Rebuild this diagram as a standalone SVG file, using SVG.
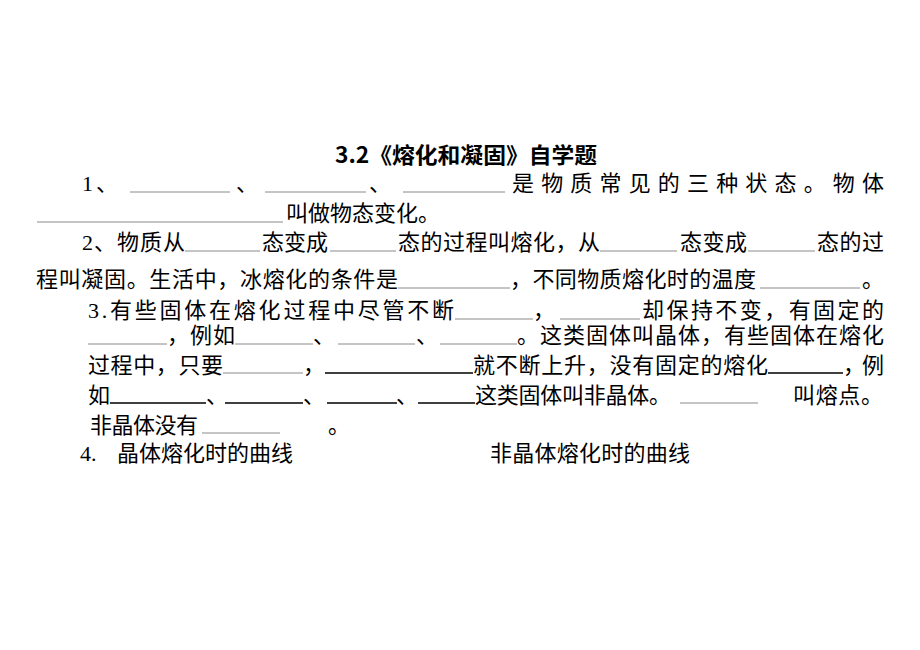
<svg xmlns="http://www.w3.org/2000/svg" width="920" height="650" viewBox="0 0 920 650">
<style>
text{font-family:"Liberation Serif","Noto Sans CJK SC",serif;font-size:22px;fill:#000}
.t{font-family:"Noto Sans CJK SC",sans-serif;font-size:22px;font-weight:bold}
.g{stroke:#8a8a8a;stroke-width:1}
.b{stroke:#000;stroke-width:1.6}
</style>
<rect width="920" height="650" fill="#fff"/>
<text class="t" x="335" y="163" textLength="262" lengthAdjust="spacingAndGlyphs">3.2《熔化和凝固》自学题</text>

<!-- line 1 -->
<text x="82" y="191">1</text>
<text x="96" y="191">、</text>
<line class="g" x1="130" y1="192" x2="230" y2="192"/>
<text x="236" y="191">、</text>
<line class="g" x1="265" y1="192" x2="366" y2="192"/>
<text x="369" y="191">、</text>
<line class="g" x1="403" y1="192" x2="505" y2="192"/>
<text x="512" y="191" textLength="372" lengthAdjust="spacing">是物质常见的三种状态。物体</text>

<!-- line 2 -->
<line class="g" x1="37" y1="222" x2="283" y2="222"/>
<text x="286" y="221" textLength="154" lengthAdjust="spacing">叫做物态变化。</text>

<!-- line 3 -->
<text x="82" y="250" textLength="103" lengthAdjust="spacing">2、物质从</text>
<line class="g" x1="185" y1="251" x2="260" y2="251"/>
<text x="262" y="250" textLength="66" lengthAdjust="spacing">态变成</text>
<line class="g" x1="330" y1="251" x2="396" y2="251"/>
<text x="398" y="250" textLength="202" lengthAdjust="spacing">态的过程叫熔化，从</text>
<line class="g" x1="600" y1="251" x2="677" y2="251"/>
<text x="680" y="250" textLength="67" lengthAdjust="spacing">态变成</text>
<line class="g" x1="748" y1="251" x2="815" y2="251"/>
<text x="817" y="250" textLength="67" lengthAdjust="spacing">态的过</text>

<!-- line 4 -->
<text x="36" y="287" textLength="362" lengthAdjust="spacing">程叫凝固。生活中，冰熔化的条件是</text>
<line class="g" x1="398" y1="288" x2="510" y2="288"/>
<text x="510" y="287" textLength="246" lengthAdjust="spacing">，不同物质熔化时的温度</text>
<line class="g" x1="760" y1="288" x2="860" y2="288"/>
<text x="862" y="287">。</text>

<!-- line 5 -->
<text x="88" y="318" textLength="366" lengthAdjust="spacing">3.有些固体在熔化过程中尽管不断</text>
<line class="g" x1="455" y1="319" x2="533" y2="319"/>
<text x="533" y="318">，</text>
<line class="g" x1="560" y1="319" x2="640" y2="319"/>
<text x="642" y="318" textLength="242" lengthAdjust="spacing">却保持不变，有固定的</text>

<!-- line 6 -->
<line class="g" x1="88" y1="344" x2="167" y2="344"/>
<text x="167" y="343" textLength="68" lengthAdjust="spacing">，例如</text>
<line class="g" x1="235" y1="344" x2="313" y2="344"/>
<text x="313" y="343">、</text>
<line class="g" x1="338" y1="344" x2="415" y2="344"/>
<text x="416" y="343">、</text>
<line class="g" x1="440" y1="344" x2="517" y2="344"/>
<text x="517" y="343" textLength="367" lengthAdjust="spacing">。这类固体叫晶体，有些固体在熔化</text>

<!-- line 7 -->
<text x="88" y="373" textLength="135" lengthAdjust="spacing">过程中，只要</text>
<line class="g" x1="223" y1="373" x2="303" y2="373"/>
<text x="303" y="373">，</text>
<line class="b" x1="325" y1="373" x2="473" y2="373"/>
<text x="473" y="373" textLength="295" lengthAdjust="spacing">就不断上升，没有固定的熔化</text>
<line class="b" x1="768" y1="373" x2="843" y2="373"/>
<text x="843" y="373" textLength="41" lengthAdjust="spacing">，例</text>

<!-- line 8 -->
<text x="88" y="403">如</text>
<line class="b" x1="110" y1="403" x2="206" y2="403"/>
<text x="206" y="403">、</text>
<line class="b" x1="225" y1="403" x2="303" y2="403"/>
<text x="303" y="403">、</text>
<line class="b" x1="327" y1="403" x2="397" y2="403"/>
<text x="396" y="403">、</text>
<line class="b" x1="418" y1="403" x2="475" y2="403"/>
<text x="475" y="403" textLength="196" lengthAdjust="spacing">这类固体叫非晶体。</text>
<line class="g" x1="680" y1="403" x2="758" y2="403"/>
<text x="793" y="403" textLength="90" lengthAdjust="spacing">叫熔点。</text>

<!-- line 9 -->
<text x="90" y="433" textLength="108" lengthAdjust="spacing">非晶体没有</text>
<line class="g" x1="202" y1="433" x2="280" y2="433"/>
<text x="328" y="433">。</text>

<!-- line 10 -->
<text x="80" y="461">4.</text>
<text x="117" y="461" textLength="176" lengthAdjust="spacing">晶体熔化时的曲线</text>
<text x="490" y="461" textLength="200" lengthAdjust="spacing">非晶体熔化时的曲线</text>
</svg>
